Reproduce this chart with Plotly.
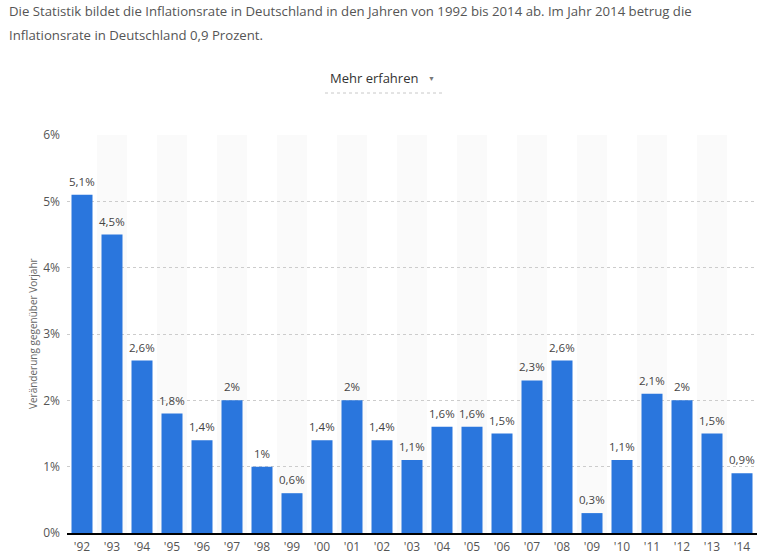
import plotly.graph_objects as go

years = ["'92", "'93", "'94", "'95", "'96", "'97", "'98", "'99", "'00", "'01", "'02", "'03",
         "'04", "'05", "'06", "'07", "'08", "'09", "'10", "'11", "'12", "'13", "'14"]
rates = [5.1, 4.5, 2.6, 1.8, 1.4, 2.0, 1.0, 0.6, 1.4, 2.0, 1.4, 1.1,
         1.6, 1.6, 1.5, 2.3, 2.6, 0.3, 1.1, 2.1, 2.0, 1.5, 0.9]
y_ticks = [0, 1, 2, 3, 4, 5, 6]
y_tick_labels = ["0%", "1%", "2%", "3%", "4%", "5%", "6%"]

def fmt(v):
    s = ("%.1f" % v).rstrip("0").rstrip(".")
    return s.replace(".", ",") + "%"

labels = [fmt(v) for v in rates]
FONT = "Open Sans"

fig = go.Figure()
fig.add_trace(go.Bar(
    x=list(range(len(years))), y=rates,
    marker=dict(color="#2A76DD", line=dict(width=0)),
    width=0.7, hoverinfo="skip",
))

shapes = []
for i in range(len(years)):
    if i % 2 == 1:
        shapes.append(dict(type="rect", xref="x", yref="paper", x0=i - 0.5, x1=i + 0.5,
                           y0=0, y1=1, fillcolor="#fafafa", line=dict(width=0), layer="below"))
shapes.append(dict(type="line", xref="paper", yref="paper", x0=(325 - 67) / 690, x1=(442 - 67) / 690,
                   y0=(533 - 93) / 398, y1=(533 - 93) / 398,
                   line=dict(color="#c8c8c8", width=1, dash="dot")))

annotations = [
    dict(text="Die Statistik bildet die Inflationsrate in Deutschland in den Jahren von 1992 bis 2014 ab. Im Jahr 2014 betrug die",
         xref="paper", yref="paper", x=(7 - 67) / 690, y=(533 - 11) / 398, xanchor="left", yanchor="middle",
         showarrow=False, font=dict(family=FONT, size=13.2, color="#555")),
    dict(text="Inflationsrate in Deutschland 0,9 Prozent.",
         xref="paper", yref="paper", x=(7 - 67) / 690, y=(533 - 35) / 398, xanchor="left", yanchor="middle",
         showarrow=False, font=dict(family=FONT, size=13.2, color="#555")),
    dict(text="Mehr erfahren", xref="paper", yref="paper", x=(328 - 67) / 690, y=(533 - 78) / 398,
         xanchor="left", yanchor="middle", showarrow=False, font=dict(family=FONT, size=13, color="#333")),
    dict(text="▼", xref="paper", yref="paper", x=(431 - 67) / 690, y=(533 - 78) / 398,
         xanchor="center", yanchor="middle", showarrow=False, font=dict(family=FONT, size=7, color="#777")),
    dict(text="Veränderung gegenüber Vorjahr", xref="paper", yref="paper", x=(33 - 67) / 690, y=0.5,
         xanchor="center", yanchor="middle", textangle=-90, showarrow=False,
         font=dict(family=FONT, size=10, color="#666")),
]
for i, (v, t) in enumerate(zip(rates, labels)):
    annotations.append(dict(text=t, x=i, y=v, xref="x", yref="y", xanchor="center", yanchor="bottom",
                            yshift=4, showarrow=False, font=dict(family=FONT, size=11.5, color="#444")))

fig.update_layout(
    width=762, height=557,
    margin=dict(l=67, r=5, t=135, b=24, pad=0, autoexpand=False),
    paper_bgcolor="white", plot_bgcolor="white",
    showlegend=False, bargap=0.3,
    shapes=shapes, annotations=annotations,
    font=dict(family=FONT),
    xaxis=dict(tickmode="array", tickvals=list(range(len(years))), ticktext=years,
               range=[-0.5, len(years) - 0.5], showgrid=False, zeroline=False, automargin=False,
               showline=True, linecolor="#000", linewidth=2, ticks="", ticklabelstandoff=2,
               tickfont=dict(family=FONT, size=12, color="#555")),
    yaxis=dict(range=[0, 6], tickmode="array", tickvals=y_ticks, ticktext=y_tick_labels,
               showgrid=True, gridcolor="#cccccc", griddash="dot", gridwidth=1, automargin=False,
               zeroline=False, showline=False, ticks="", ticklabelstandoff=6,
               tickfont=dict(family=FONT, size=12, color="#555")),
)

fig.write_html("out.html", config={"displayModeBar": False, "staticPlot": True})
with open("out.html", "r", encoding="utf-8") as f:
    html = f.read()
html = html.replace("<head>", "<head><style>html,body{margin:0;padding:0;overflow:hidden;}</style>", 1)
with open("out.html", "w", encoding="utf-8") as f:
    f.write(html)
